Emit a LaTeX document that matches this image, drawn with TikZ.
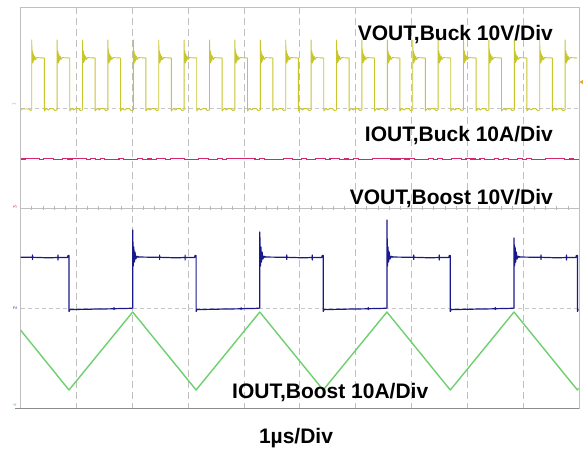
\documentclass[tikz,border=0pt]{standalone}
\usepackage{fontspec}
\setmainfont{Liberation Sans}
\definecolor{yel}{RGB}{200,198,45}
\definecolor{mag}{RGB}{214,40,110}
\definecolor{navy}{RGB}{25,25,140}
\definecolor{grn}{RGB}{110,208,110}
\definecolor{trig}{RGB}{230,170,40}
\begin{document}
\begin{tikzpicture}[x=1pt,y=-1pt,
  lbl/.style={font=\fontsize{21}{21}\selectfont\bfseries, inner sep=0pt},
  mk/.style={font=\fontsize{5}{5}\selectfont, inner sep=0pt, rotate=90},
  vgrid/.style={draw=black!25, line width=0.7pt, dash pattern=on 7pt off 4pt},
  hgrid/.style={draw=black!22, line width=0.7pt, dash pattern=on 4pt off 3pt},
  frm/.style={draw=black!25, line width=0.8pt},
  tck/.style={draw=black!28, line width=0.6pt},
  ch1/.style={draw=yel, line width=0.9pt, line join=round},
  ch2/.style={draw=navy, line width=1.2pt, line join=round},
  ch3/.style={draw=mag, line width=1.1pt},
  ch4/.style={draw=grn, line width=1.4pt, line join=round}]
\useasboundingbox (0,0) rectangle (583,450);
\fill[white] (0,0) rectangle (583,450);
% grid
\foreach \i in {1,...,9} \draw[vgrid] ({20.5+55.85*\i},7) -- ({20.5+55.85*\i},408);
\draw[hgrid] (20.5,108) -- (579,108);
\draw[hgrid] (20.5,308) -- (579,308);
\draw[frm] (20.5,208) -- (579,208);
\foreach \i in {1,...,49} \draw[tck] ({20.5+11.17*\i},206) -- ++(0,4);
\draw[frm] (20.5,7) rectangle (579,408);
\draw[draw=black!45, line width=0.8pt] (15,408) -- (579,408);
% channel 1 (yellow)
\begin{scope}
\clip (20.5,0) rectangle (577,450);
\draw[ch1] (20.5,110) -- (22,109) -- (29,109) -- (30.5,110.5) -- (31.7,110);
\foreach \i in {0,...,21}{
  \pgfmathsetmacro\r{31.7+25.4*\i}
  \pgfmathsetmacro\f{\r+12.6}
  \pgfmathsetmacro\n{\r+25.4}
  \draw[ch1] ({\r},110) -- ({\r},40) -- ({\r+0.4},62) -- ({\r+0.8},51) -- ({\r+1.2},63) -- ({\r+1.7},54) -- ({\r+2.2},61) -- ({\r+2.9},56) -- ({\r+3.8},59.5) -- ({\r+5},57.6) -- ({\f},58) -- ({\f},111) -- ({\f+1.2},109.5) -- ({\f+2.5},108.3) -- ({\f+4},110) -- ({\f+6},108.6) -- ({\f+9},108.6) -- ({\f+10.5},110.5) -- ({\n},110);
}
\end{scope}
% channel 3 (magenta)
\pgfmathsetseed{5}
\draw[ch3] plot[const plot, domain=20.5:578.5, samples=120] (\x,{159+0.8*rand});
% channel 2 (blue)
\begin{scope}
\clip (20.5,0) rectangle (578.5,450);
\foreach \k/\sp in {0/230,1/232,2/220,3/238,4/230}{
  \pgfmathsetmacro\F{69+127.1*\k}
  \draw[ch2] ({\F-60.4},257) -- ({\F-36.5},257.3) -- ({\F-36.5},255) -- ({\F-36.5},259.5) -- ({\F-36.5},257.3) -- ({\F-20},257.8) -- ({\F-11},257.5) -- ({\F-11},255) -- ({\F-11},260) -- ({\F-11},257.5) -- ({\F-1.5},257.5) -- ({\F-1},255.5) -- ({\F},255.5) -- ({\F},311.5) -- ({\F+0.8},309.6) -- ({\F+30},309) -- ({\F+45},308.8) -- ({\F+45},307.5) -- ({\F+45},309.5) -- ({\F+45},308.7) -- ({\F+62},308.3) -- ({\F+63.7},308) -- ({\F+63.7},\sp) -- ({\F+64.3},266) -- ({\F+64.8},247) -- ({\F+65.4},262) -- ({\F+66},252) -- ({\F+66.8},259) -- ({\F+67.8},256.3) -- ({\F+69.6},257);
}
\end{scope}
% channel 4 (green)
\begin{scope}
\clip (20.5,0) rectangle (578.5,450);
\draw[ch4] (20.5,330) \foreach \k in {0,...,4}{ -- ({69+127.1*\k},390) -- ({132.7+127.1*\k},312) };
\end{scope}
% markers
\node[mk, text=yel] (m1) at (14,104) {1};
\node[mk, text=mag] (m3) at (15,207) {3};
\node[mk, text=navy] (m2) at (15,308) {2};
\node[mk, text=grn] (m4) at (15,405) {4};
\fill[trig] (579.5,82) -- (583,79.8) -- (583,84.2) -- cycle;
% labels
\node[lbl, anchor=base east] (vbuck) at (553,40.7) {VOUT,Buck 10V/Div};
\node[lbl, anchor=base east] (ibuck) at (553,141.5) {IOUT,Buck 10A/Div};
\node[lbl, anchor=base east] (vboost) at (553,204.5) {VOUT,Boost 10V/Div};
\node[lbl, anchor=base west] (iboost) at (232,398.3) {IOUT,Boost 10A/Div};
\node[lbl, anchor=base] (tdiv) at (296,443.3) {1µs/Div};
\end{tikzpicture}
\end{document}
